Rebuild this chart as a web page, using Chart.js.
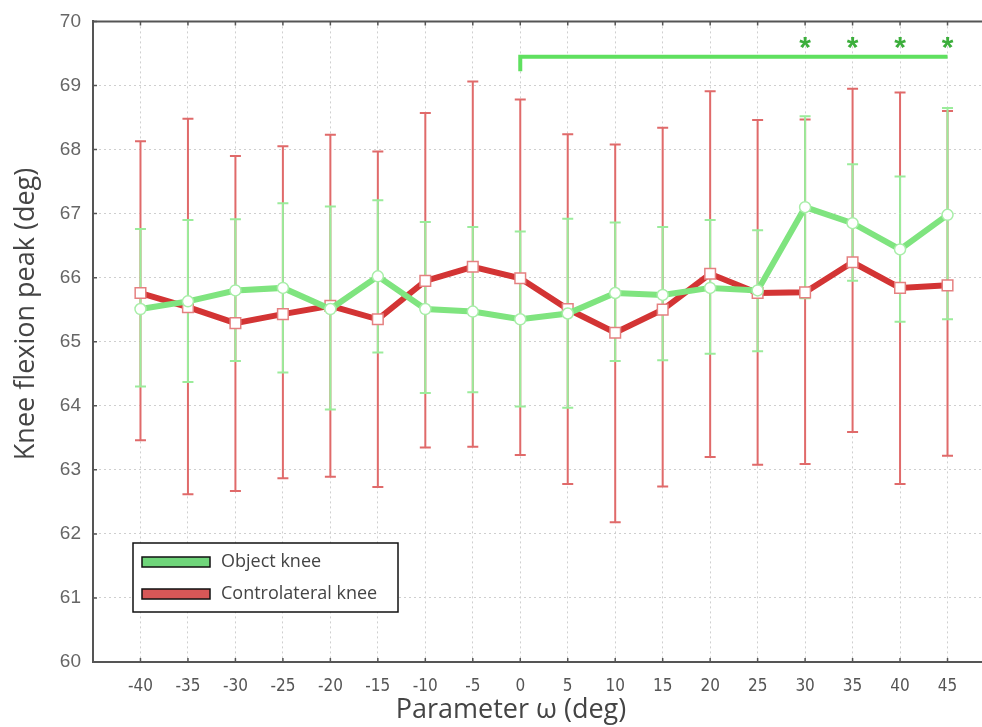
<!DOCTYPE html>
<html lang="en">
<head>
  <meta charset="UTF-8">
  <title>Knee flexion peak</title>
  <script src="https://cdn.jsdelivr.net/npm/chart.js"></script>
  <style>
    html, body {
      margin: 0;
      padding: 0;
      background: #ffffff;
      overflow: hidden;
    }
    #wrap {
      width: 1004px;
      height: 729px;
      margin-top: -2px;
    }
  </style>
</head>
<body>
  <div id="wrap">
    <canvas id="kneeChart" width="1004" height="729"></canvas>
  </div>

  <script>
    // values
    const omegaValues = [-40, -35, -30, -25, -20, -15, -10, -5, 0, 5, 10, 15, 20, 25, 30, 35, 40, 45];
    const omegaLabels = ["-40", "-35", "-30", "-25", "-20", "-15", "-10", "-5", "0", "5", "10", "15", "20", "25", "30", "35", "40", "45"];

    const objectMean  = [65.51, 65.63, 65.80, 65.84, 65.51, 66.02, 65.51, 65.47, 65.35, 65.44, 65.76, 65.73, 65.84, 65.80, 67.10, 66.85, 66.44, 66.98];
    const objectUpper = [66.76, 66.90, 66.91, 67.16, 67.11, 67.21, 66.87, 66.79, 66.72, 66.92, 66.86, 66.79, 66.90, 66.74, 68.52, 67.77, 67.58, 68.65];
    const objectLower = [64.30, 64.37, 64.70, 64.52, 63.94, 64.83, 64.20, 64.21, 63.99, 63.97, 64.70, 64.71, 64.81, 64.85, 65.68, 65.95, 65.31, 65.35];

    const contraMean  = [65.76, 65.54, 65.29, 65.43, 65.56, 65.35, 65.95, 66.17, 65.99, 65.51, 65.14, 65.50, 66.06, 65.76, 65.77, 66.24, 65.84, 65.88];
    const contraUpper = [68.13, 68.48, 67.90, 68.05, 68.23, 67.97, 68.57, 69.06, 68.78, 68.24, 68.08, 68.34, 68.91, 68.46, 68.47, 68.95, 68.89, 68.60];
    const contraLower = [63.46, 62.62, 62.67, 62.87, 62.89, 62.73, 63.35, 63.36, 63.23, 62.78, 62.18, 62.74, 63.20, 63.08, 63.09, 63.59, 62.78, 63.22];

    const yTicks = [60, 61, 62, 63, 64, 65, 66, 67, 68, 69, 70];

    // significance bracket (object knee)
    const sigFrom = 0;
    const sigTo = 45;
    const sigLevel = 69.45;
    const sigFoot = 69.22;
    const sigStars = [30, 35, 40, 45];
    const sigStarLevel = 69.64;

    const xTitle = "Parameter \u03c9 (deg)";
    const yTitle = "Knee flexion peak (deg)";

    const GREEN_LINE = "#7fe47f";
    const GREEN_BAR = "#9bec9b";
    const RED_LINE = "#d33434";
    const RED_BAR = "#e06a6a";

    function toPoints(means) {
      return omegaValues.map((x, i) => ({ x: x, y: means[i] }));
    }

    // vertical error bars, drawn under the mean lines
    const errorBars = {
      id: "errorBars",
      beforeDatasetsDraw(chart) {
        const ctx = chart.ctx;
        const xs = chart.scales.x;
        const ys = chart.scales.y;
        const sets = [
          { low: contraLower, high: contraUpper, color: RED_BAR },
          { low: objectLower, high: objectUpper, color: GREEN_BAR }
        ];
        ctx.save();
        sets.forEach(s => {
          ctx.strokeStyle = s.color;
          ctx.lineWidth = 2;
          omegaValues.forEach((v, i) => {
            const px = xs.getPixelForValue(v);
            const top = ys.getPixelForValue(s.high[i]);
            const bot = ys.getPixelForValue(s.low[i]);
            ctx.beginPath();
            ctx.moveTo(px, top);
            ctx.lineTo(px, bot);
            ctx.moveTo(px - 5.5, top);
            ctx.lineTo(px + 5.5, top);
            ctx.moveTo(px - 5.5, bot);
            ctx.lineTo(px + 5.5, bot);
            ctx.stroke();
          });
        });
        ctx.restore();
      }
    };

    // top border, inward ticks, axis titles, bracket, asterisks and boxed legend
    const decorations = {
      id: "decorations",
      afterDraw(chart) {
        const ctx = chart.ctx;
        const area = chart.chartArea;
        const xs = chart.scales.x;
        const ys = chart.scales.y;
        ctx.save();

        ctx.strokeStyle = "#555555";
        ctx.lineWidth = 2;
        ctx.beginPath();
        ctx.moveTo(area.left - 1, area.top);
        ctx.lineTo(area.right, area.top);
        ctx.stroke();

        ctx.lineWidth = 1.5;
        ctx.beginPath();
        omegaValues.forEach(v => {
          const px = xs.getPixelForValue(v);
          ctx.moveTo(px, area.top);
          ctx.lineTo(px, area.top + 4);
          ctx.moveTo(px, area.bottom);
          ctx.lineTo(px, area.bottom - 4);
        });
        yTicks.forEach(v => {
          const py = ys.getPixelForValue(v);
          ctx.moveTo(area.left, py);
          ctx.lineTo(area.left + 4, py);
        });
        ctx.stroke();

        // axis titles (the original sits a bit off the plot centre)
        ctx.fillStyle = "#444444";
        ctx.font = "27px 'Open Sans', sans-serif";
        ctx.textAlign = "center";
        ctx.textBaseline = "middle";
        ctx.fillText(xTitle, 511, 712);
        ctx.save();
        ctx.translate(26, 316);
        ctx.rotate(-Math.PI / 2);
        ctx.fillText(yTitle, 0, 0);
        ctx.restore();

        // bracket
        const bx0 = xs.getPixelForValue(sigFrom);
        const bx1 = xs.getPixelForValue(sigTo);
        const by = ys.getPixelForValue(sigLevel);
        const bf = ys.getPixelForValue(sigFoot);
        ctx.strokeStyle = "#5fe05f";
        ctx.lineWidth = 4;
        ctx.lineCap = "butt";
        ctx.beginPath();
        ctx.moveTo(bx0, bf);
        ctx.lineTo(bx0, by);
        ctx.lineTo(bx1, by);
        ctx.stroke();

        ctx.fillStyle = "#3cae3c";
        ctx.font = "bold 30px 'Liberation Sans', Arial, sans-serif";
        ctx.textAlign = "center";
        ctx.textBaseline = "middle";
        const sy = ys.getPixelForValue(sigStarLevel);
        sigStars.forEach(v => {
          ctx.fillText("*", xs.getPixelForValue(v), sy + 4);
        });

        // legend box
        const lx = area.left + 40;
        const ly = area.bottom - 119;
        ctx.fillStyle = "#ffffff";
        ctx.fillRect(lx, ly, 265, 69);
        ctx.strokeStyle = "#111111";
        ctx.lineWidth = 1.5;
        ctx.strokeRect(lx, ly, 265, 69);

        const rows = [
          { label: chart.data.datasets[0].label, fill: "#6fd57a", y: ly + 19 },
          { label: chart.data.datasets[1].label, fill: "#d75757", y: ly + 51 }
        ];
        ctx.font = "18px 'Open Sans', sans-serif";
        ctx.textAlign = "left";
        ctx.textBaseline = "middle";
        rows.forEach(r => {
          ctx.fillStyle = r.fill;
          ctx.fillRect(lx + 9, r.y - 5, 68, 10);
          ctx.strokeStyle = "#111111";
          ctx.lineWidth = 1.5;
          ctx.strokeRect(lx + 9, r.y - 5, 68, 10);
          ctx.fillStyle = "#444444";
          ctx.fillText(r.label, lx + 88, r.y);
        });

        ctx.restore();
      }
    };

    const ctx = document.getElementById("kneeChart").getContext("2d");

    new Chart(ctx, {
      type: "line",
      data: {
        datasets: [
          {
            label: "Object knee",
            data: toPoints(objectMean),
            borderColor: GREEN_LINE,
            borderWidth: 6,
            pointStyle: "circle",
            pointRadius: 5.5,
            pointBackgroundColor: "#ffffff",
            pointBorderColor: "#a8eea8",
            pointBorderWidth: 1.5,
            tension: 0,
            order: 1
          },
          {
            label: "Controlateral knee",
            data: toPoints(contraMean),
            borderColor: RED_LINE,
            borderWidth: 6,
            pointStyle: "rect",
            pointRadius: 7.5,
            pointBackgroundColor: "#ffffff",
            pointBorderColor: "#e58080",
            pointBorderWidth: 1.5,
            tension: 0,
            order: 2
          }
        ]
      },
      options: {
        responsive: false,
        animation: false,
        layout: {
          padding: { top: 15, right: 0, bottom: 0, left: 0 }
        },
        plugins: {
          legend: { display: false },
          tooltip: { enabled: false }
        },
        scales: {
          x: {
            type: "linear",
            min: -45,
            max: 50,
            afterFit(scale) { scale.height = 65; },
            afterBuildTicks(scale) {
              scale.ticks = omegaValues.map(v => ({ value: v }));
            },
            ticks: {
              autoSkip: false,
              maxRotation: 0,
              padding: 14,
              color: "#555555",
              font: { family: "'Liberation Sans Narrow', 'DejaVu Sans Condensed', sans-serif", size: 17 },
              callback: function(value, index) {
                return omegaLabels[index];
              }
            },
            grid: {
              color: "#cfcfcf",
              lineWidth: 1,
              drawTicks: false
            },
            border: { display: true, color: "#555555", width: 2, dash: [2, 3] }
          },
          y: {
            min: 60,
            max: 70,
            afterFit(scale) { scale.width = 93; },
            ticks: {
              stepSize: 1,
              padding: 12,
              color: "#666666",
              font: { family: "'Liberation Sans', Arial, sans-serif", size: 19 }
            },
            grid: {
              color: "#cfcfcf",
              lineWidth: 1,
              drawTicks: false
            },
            border: { display: true, color: "#555555", width: 2, dash: [2, 3] }
          }
        }
      },
      plugins: [errorBars, decorations]
    });
  </script>
</body>
</html>
